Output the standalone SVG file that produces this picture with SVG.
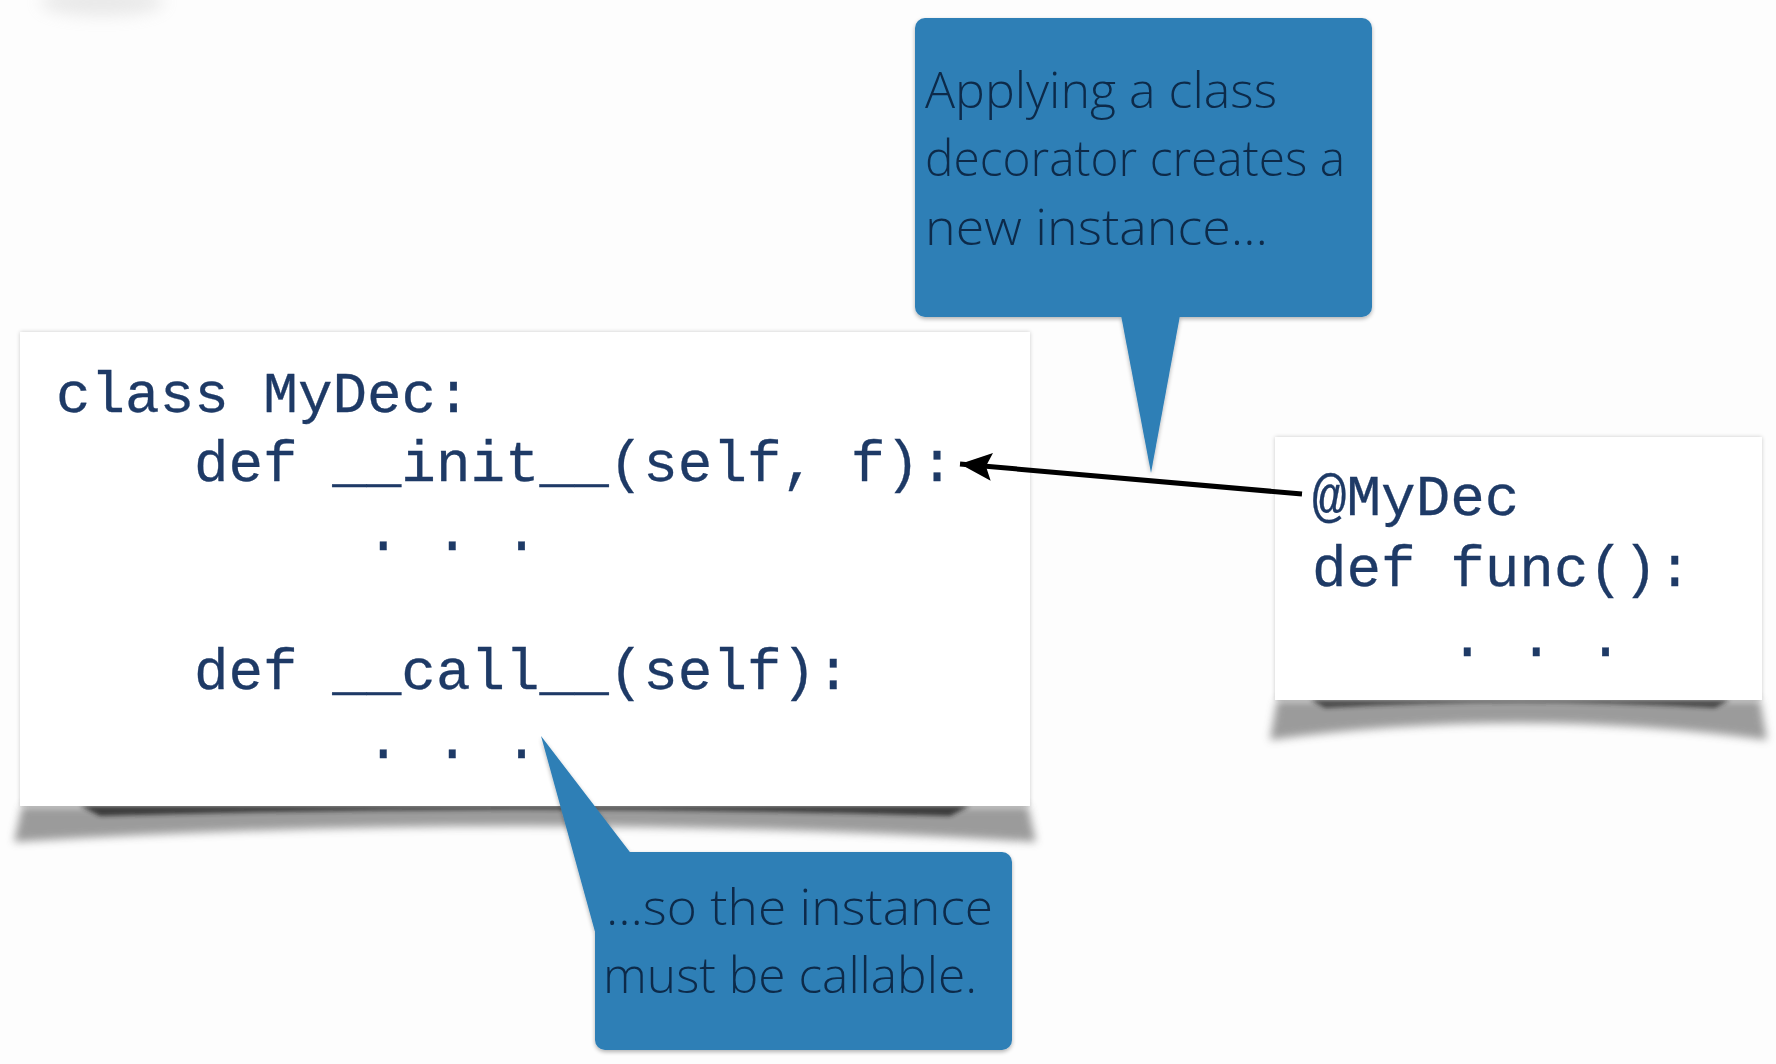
<svg xmlns="http://www.w3.org/2000/svg" width="1776" height="1064" viewBox="0 0 1776 1064">
  <defs>
    <style>
      .code { font-family: "Liberation Mono", "Courier New", monospace; font-size: 57.6px; fill: #1e3a66; stroke: #1e3a66; stroke-width: 0.3px; }
      .note { font-family: "Open Sans", "Noto Sans", sans-serif; font-weight: 300; font-size: 49px; fill: #0c2a4a; }
      .bubble { fill: #2f7fb6; }
      .card { fill: #ffffff; }
    </style>
    <filter id="blur4" x="-20%" y="-100%" width="140%" height="300%">
      <feGaussianBlur stdDeviation="4"/>
    </filter>
    <filter id="blur2" x="-20%" y="-100%" width="140%" height="300%">
      <feGaussianBlur stdDeviation="2"/>
    </filter>
    <filter id="edge" x="-5%" y="-5%" width="110%" height="110%">
      <feGaussianBlur in="SourceAlpha" stdDeviation="2"/>
      <feComponentTransfer><feFuncA type="linear" slope="0.2"/></feComponentTransfer>
      <feMerge><feMergeNode/><feMergeNode in="SourceGraphic"/></feMerge>
    </filter>
    <filter id="bshadow" x="-5%" y="-5%" width="110%" height="115%">
      <feGaussianBlur in="SourceAlpha" stdDeviation="2"/>
      <feOffset dy="2"/>
      <feComponentTransfer><feFuncA type="linear" slope="0.3"/></feComponentTransfer>
      <feMerge><feMergeNode/><feMergeNode in="SourceGraphic"/></feMerge>
    </filter>
    <filter id="blob" x="-50%" y="-200%" width="200%" height="500%">
      <feGaussianBlur stdDeviation="8"/>
    </filter>
    <marker id="head" markerUnits="userSpaceOnUse" markerWidth="34" markerHeight="30" refX="32" refY="14" orient="auto">
      <path d="M 32 14 L 0 0 L 6 14 L 0 28 Z" fill="#000000"/>
    </marker>
  </defs>

  <rect x="0" y="0" width="1776" height="1064" fill="#fdfdfd"/>
  <ellipse cx="102" cy="2" rx="62" ry="14" fill="#bbbbbb" opacity="0.3" filter="url(#blob)"/>

  <g id="class-card">
    <path d="M 22 806 L 14 842 Q 525 810 1036 842 L 1028 806 Z" fill="#8a8a8a" opacity="0.85" filter="url(#blur4)"/>
    <path d="M 80 806 L 100 816 Q 525 804 950 816 L 970 806 Z" fill="#222222" opacity="0.8" filter="url(#blur2)"/>
    <rect class="card" x="20" y="332" width="1010" height="474" filter="url(#edge)"/>
    <text class="code" x="56" y="412">class MyDec:</text>
    <text class="code" x="194" y="481">def __init__(self, f):</text>
    <text class="code" x="366" y="550">. . .</text>
    <text class="code" x="194" y="689">def __call__(self):</text>
    <text class="code" x="366" y="758">. . .</text>
  </g>

  <g id="func-card">
    <path d="M 1277 700 L 1270 740 Q 1518 706 1767 740 L 1760 700 Z" fill="#8a8a8a" opacity="0.85" filter="url(#blur4)"/>
    <path d="M 1310 700 L 1325 708 Q 1518 698 1715 708 L 1730 700 Z" fill="#222222" opacity="0.7" filter="url(#blur2)"/>
    <rect class="card" x="1275" y="437" width="487" height="263" filter="url(#edge)"/>
    <text class="code" x="1312" y="515">@MyDec</text>
    <text class="code" x="1312" y="586">def func():</text>
    <text class="code" x="1450" y="656">. . .</text>
  </g>

  <g id="callout-top" filter="url(#bshadow)">
    <rect class="bubble" x="915" y="18" width="457" height="299" rx="10" ry="10"/>
    <polygon class="bubble" points="1120,310 1181,310 1151,473"/>
    <text class="note" x="925" y="108" textLength="352" lengthAdjust="spacingAndGlyphs">Applying a class</text>
    <text class="note" x="925" y="176" textLength="420" lengthAdjust="spacingAndGlyphs">decorator creates a</text>
    <text class="note" x="925" y="245" textLength="343" lengthAdjust="spacingAndGlyphs">new instance…</text>
  </g>

  <g id="callout-bottom" filter="url(#bshadow)">
    <rect class="bubble" x="595" y="852" width="417" height="198" rx="10" ry="10"/>
    <polygon class="bubble" points="541,736 636,860 600,860 600,950"/>
    <text class="note" x="606" y="925" textLength="387" lengthAdjust="spacingAndGlyphs">…so the instance</text>
    <text class="note" x="603" y="993" textLength="374" lengthAdjust="spacingAndGlyphs">must be callable.</text>
  </g>

  <g id="connectors">
    <line x1="1302" y1="494" x2="960" y2="464" stroke="#000000" stroke-width="5" marker-end="url(#head)"/>
  </g>
</svg>
